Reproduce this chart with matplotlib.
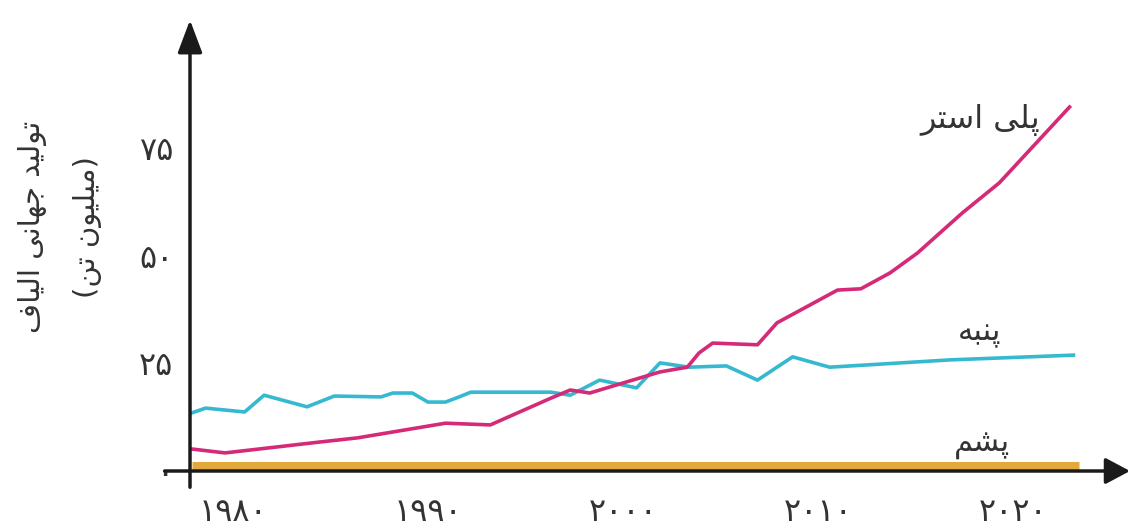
import matplotlib.pyplot as plt

# values (million tonnes)
polyester_years = [1977.9, 1979.6, 1984.4, 1986.4, 1990.9, 1993.2, 1996.3, 1997.3, 1998.3,
                   2000.2, 2001.9, 2003.3, 2003.9, 2004.6, 2006.9, 2007.9, 2011.0, 2012.2,
                   2013.7, 2015.1, 2017.4, 2019.3, 2022.9]
polyester = [5.1, 4.2, 6.7, 7.7, 11.1, 10.7, 16.9, 18.8, 18.1,
             20.7, 23.0, 24.1, 27.4, 29.7, 29.3, 34.4, 42.0, 42.3,
             46.0, 50.6, 59.9, 66.9, 84.5]

cotton_years = [1977.9, 1978.6, 1980.6, 1981.6, 1983.8, 1985.2, 1987.6, 1988.2, 1989.2,
                1990.0, 1990.9, 1991.6, 1992.2, 1996.3, 1997.3, 1998.8, 2000.7, 2001.9,
                2003.4, 2005.3, 2006.9, 2008.7, 2010.6, 2016.8, 2023.1]
cotton = [13.5, 14.6, 13.7, 17.6, 14.9, 17.4, 17.2, 18.1, 18.1,
          16.0, 16.0, 17.2, 18.3, 18.3, 17.6, 21.1, 19.3, 25.1,
          24.1, 24.4, 21.1, 26.5, 24.1, 25.8, 26.9]

wool_years = [1977.9, 2023.4]
wool = [1.1, 1.1]

x_ticks = [1980, 1990, 2000, 2010, 2020]
x_tick_labels = ['۱۹۸۰', '۱۹۹۰', '۲۰۰۰', '۲۰۱۰', '۲۰۲۰']
y_ticks = [0, 25, 50, 75]
y_tick_labels = ['۰', '۲۵', '۵۰', '۷۵']

y_label_lines = ['تولید جهانی الیاف', '(میلیون تن)']
series_names = ['پلی استر', 'پنبه', 'پشم']

# matplotlib has no arabic shaping, so pick presentation forms by hand
FORMS = {
    'ا': ('\uFE8D', '\uFE8E'),
    'د': ('\uFEA9', '\uFEAA'),
    'ر': ('\uFEAD', '\uFEAE'),
    'و': ('\uFEED', '\uFEEE'),
    'ب': ('\uFE8F', '\uFE90', '\uFE91', '\uFE92'),
    'پ': ('\uFB56', '\uFB57', '\uFB58', '\uFB59'),
    'ت': ('\uFE95', '\uFE96', '\uFE97', '\uFE98'),
    'ج': ('\uFE9D', '\uFE9E', '\uFE9F', '\uFEA0'),
    'س': ('\uFEB1', '\uFEB2', '\uFEB3', '\uFEB4'),
    'ش': ('\uFEB5', '\uFEB6', '\uFEB7', '\uFEB8'),
    'ف': ('\uFED1', '\uFED2', '\uFED3', '\uFED4'),
    'ل': ('\uFEDD', '\uFEDE', '\uFEDF', '\uFEE0'),
    'م': ('\uFEE1', '\uFEE2', '\uFEE3', '\uFEE4'),
    'ن': ('\uFEE5', '\uFEE6', '\uFEE7', '\uFEE8'),
    'ه': ('\uFEE9', '\uFEEA', '\uFEEB', '\uFEEC'),
    'ی': ('\uFBFC', '\uFBFD', '\uFBFE', '\uFBFF'),
}


def rtl(text):
    out = []
    for i, ch in enumerate(text):
        if ch not in FORMS:
            out.append(ch)
            continue
        prev = text[i - 1] if i > 0 else ''
        nxt = text[i + 1] if i + 1 < len(text) else ''
        f = FORMS[ch]
        join_prev = prev in FORMS and len(FORMS[prev]) == 4
        join_next = nxt in FORMS and len(f) == 4
        if join_prev and join_next:
            out.append(f[3])
        elif join_prev:
            out.append(f[1])
        elif join_next:
            out.append(f[2])
        else:
            out.append(f[0])
    return ''.join(reversed(out)).translate(str.maketrans('()', ')('))


plt.rcParams['font.family'] = ['DejaVu Sans']
text_color = '#333333'
axis_color = '#1a1a1a'

fig = plt.figure(figsize=(11.35, 5.3), dpi=100)
ax = fig.add_axes([190 / 1135, 59 / 530, 940 / 1135, 451 / 530])
ax.set_xlim(1977.8, 2026.0)
ax.set_ylim(0, 104.7)
for s in ax.spines.values():
    s.set_visible(False)

ax.plot(wool_years, wool, color='#e3a83c', lw=6.5, solid_capstyle='butt', zorder=2)
ax.plot(cotton_years, cotton, color='#36b9d0', lw=2.6, zorder=3)
ax.plot(polyester_years, polyester, color='#d42a78', lw=2.6, zorder=4)

# axes with arrow heads
arrow_y = dict(arrowstyle='-|>,head_length=2.0,head_width=0.75', lw=2.5,
               color=axis_color, shrinkA=0, shrinkB=0, mutation_scale=10)
arrow_x = dict(arrowstyle='-|>,head_length=1.5,head_width=0.8', lw=2.5,
               color=axis_color, shrinkA=0, shrinkB=0, mutation_scale=10)
ax.annotate('', xy=(0, 1), xytext=(0, -0.036), xycoords='axes fraction',
            arrowprops=arrow_y, zorder=6, annotation_clip=False)
ax.annotate('', xy=(1, 0), xytext=(-0.027, 0), xycoords='axes fraction',
            arrowprops=arrow_x, zorder=6, annotation_clip=False)

ax.set_xticks(x_ticks)
ax.set_xticklabels(x_tick_labels)
ax.set_yticks(y_ticks)
ax.set_yticklabels(y_tick_labels)
ax.tick_params(axis='both', length=0, colors=text_color, labelsize=23)
ax.tick_params(axis='x', pad=19)
ax.tick_params(axis='y', pad=12)

fig.text(33 / 1135, 1 - 227 / 530, rtl(y_label_lines[0]), rotation=90, ha='center', va='center',
         fontsize=21, color=text_color)
fig.text(88 / 1135, 1 - 227 / 530, rtl(y_label_lines[1]), rotation=90, ha='center', va='center',
         fontsize=21, color=text_color)

ax.text(2018.3, 81.5, rtl(series_names[0]), ha='center', va='center', fontsize=23, color=text_color)
ax.text(2018.3, 32.0, rtl(series_names[1]), ha='center', va='center', fontsize=22, color=text_color)
ax.text(2018.4, 6.0, rtl(series_names[2]), ha='center', va='center', fontsize=22, color=text_color)

plt.savefig('out.png', dpi=100)
